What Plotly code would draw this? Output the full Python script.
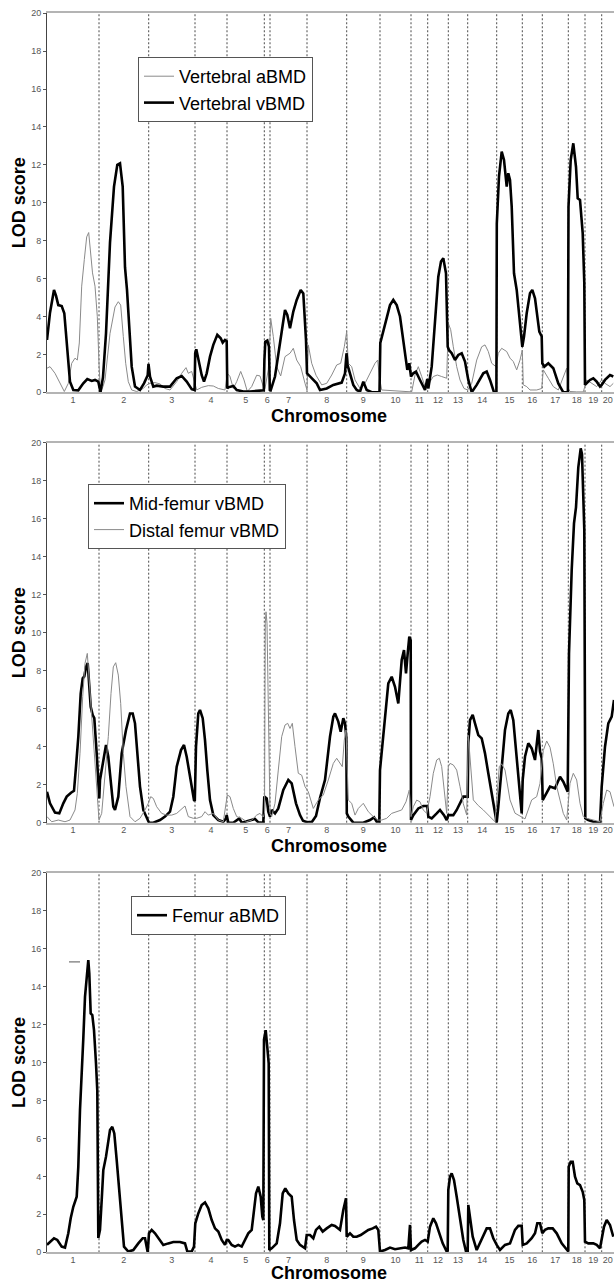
import plotly.graph_objects as go

# ---------------- data ----------------
CHROM_LABELS = [str(i) for i in range(1, 21)]
# chromosome lengths (cM) along the genome axis
CHROM_LENGTHS = [52, 49.7, 46.3, 32, 37.3, 5.7, 37, 39.7, 33.3, 31,
                 16.7, 20.6, 19.4, 29, 25.6, 20, 26, 16.7, 16.7, 12.3]

# Panel 1 - Vertebral vBMD (genome position cM, LOD)
vert_v_pos = [0, 3, 7, 9, 11.3, 14.7, 17.3, 19, 20.3, 23, 26.3, 31.3, 36.3, 40.3, 44.7, 48, 51.3, 52.3,
              53.5, 56, 59, 63, 67, 70.3, 73, 75.7, 78, 80, 82.3, 84.7, 88, 93, 97, 100.7, 101.5, 103, 106.3,
              109.7, 116.3, 123, 129.7, 134.7, 139.7, 144.7, 147.6,
              148.2, 149.3, 151.3, 154.7, 157, 159.7, 163, 166.3, 170.3, 173.7, 175.7, 178, 179.7, 180.3,
              181.3, 186.3, 189.7, 196.3, 203, 213, 216.8,
              217.4, 218.3, 220.3, 222, 222.8,
              223.7, 228, 232.3, 235.7, 238, 240.3, 243, 246.3, 249.7, 253.7, 256.3, 259, 260,
              264.7, 269.7, 273, 279.7, 286.3, 294.7, 298, 299.5, 300.5, 303,
              306.3, 309.7, 313, 316.3, 319.7, 324.7, 332.5,
              333.3, 335.7, 339.7, 343, 346.3, 349.7, 353, 356.3, 359, 360.3, 362.3, 364,
              366.3, 369, 373, 378, 380.3,
              381.3, 384.7, 388, 391.3, 394, 396.3, 399, 400.7,
              402, 404.7, 408, 411.3, 414.7, 418, 421.3,
              424.7, 429.7, 436.3, 439.7, 443, 447, 449.4,
              449.8, 452, 454.7, 457, 459.7, 461.3, 463, 464.7, 467, 469.7, 473, 475.3,
              477, 479.7, 483, 485.3, 488, 490.3, 492.3, 494.7, 495.3,
              497.3, 501.3, 506.3, 511.3, 516.3, 520.9,
              521.5, 523.7, 526.3, 529, 530.7, 533, 535.7, 537.3, 538,
              539.7, 543, 546.3, 549.7, 553, 554.7,
              558, 563, 566.3]
vert_v_lod = [2.76, 4.2, 5.4, 5.1, 4.6, 4.55, 4.17, 3.2, 2.2, 0.56, 0.12, 0.1, 0.47, 0.7, 0.6, 0.65, 0.56, 0.3,
              0, 0.8, 3.1, 7.9, 10.85, 12.0, 12.08, 10.85, 6.6, 5.4, 3.1, 1.35, 0.3, 0.12, 0.47, 0.9, 1.5, 0.83, 0.3,
              0.35, 0.3, 0.3, 0.74, 0.86, 0.56, 0.16, 0.12,
              2.06, 2.27, 1.7, 0.9, 0.56, 1.0, 1.88, 2.5, 3.03, 2.85, 2.62, 2.76, 2.7, 0.2,
              0.26, 0.33, 0.12, 0.04, 0.04, 0.09, 0.1,
              1.7, 2.67, 2.73, 2.4, 0.12,
              0.1, 0.83, 2.23, 3.55, 4.34, 4.08, 3.38, 4.26, 4.87, 5.4, 5.22, 2.76, 1.0,
              0.74, 0.47, 0.12, 0.2, 0.39, 0.51, 1.0, 2.06, 1.44, 1.0,
              0.39, 0.12, 0.03, 0.56, 0.12, 0, 0,
              2.6, 3.1, 4.0, 4.6, 4.87, 4.6, 4.0, 2.76, 1.62, 1.18, 1.53, 0.83,
              1.0, 1.09, 0.65, 0.12, 0.7,
              0.2, 1.35, 4.0, 6.1, 6.9, 7.07, 6.28, 2.4,
              2.23, 2.06, 1.7, 1.97, 2.06, 1.62, 0.65,
              0, 0.39, 1.0, 1.09, 0.65, 0, 0,
              8.9, 11.4, 12.7, 12.26, 10.85, 11.56, 11.2, 9.8, 6.28, 5.4, 3.64, 2.4,
              2.94, 4.17, 5.22, 5.4, 4.96, 3.82, 3.2, 2.94, 1.53,
              1.35, 1.53, 1.27, 0.47, 0, 0,
              9.8, 12.26, 13.14, 11.9, 10.24, 10.15, 8.4, 5.75, 0.39,
              0.47, 0.65, 0.74, 0.56, 0.3, 0.39,
              0.65, 0.91, 0.83]

# Panel 1 - Vertebral aBMD
vert_a_pos = [0, 3, 8, 13, 17.3, 21.3, 24.7, 28, 30.3, 32.3, 34.7, 37.3, 39.7, 41.7, 43.7, 45.5, 48, 50.3, 52,
              53.5, 56, 58, 63, 68, 71.3, 73.7, 76.3, 78.7, 81.3, 84.7, 89.7, 96.3, 99.7,
              103, 108, 113, 118, 123, 129.7, 134.7, 139, 141.3, 144.7, 147.3,
              149.7, 154.7, 161.3, 166.3, 171.3, 178,
              180.3, 183, 186.3, 189.7, 193.7, 197, 200.3, 204.7, 209.7, 213, 216.3,
              218, 221.3, 223,
              223.7, 226.3, 229.7, 233.7, 238, 243, 246.3, 249.7, 253.7, 258, 260,
              261.3, 264.7, 269, 274.7, 279.7, 284.7, 289.7, 293.7, 297.3, 299.7,
              301.3, 304.7, 308, 313, 318, 323, 328, 330.7, 332.3,
              334.7, 343, 353, 363,
              364.7, 368, 371.3, 374.7, 378, 380.3,
              383, 386.3, 390.3, 394.7, 399.7,
              401.3, 403.7, 406.3, 409.7, 413, 417, 420.7,
              424.7, 429.7, 434.7, 438, 441.3, 444.7, 449,
              451.3, 454.7, 459.7, 463, 466.3, 469.7, 473, 475.3,
              476.3, 479.7, 483, 489.7, 494.7,
              496.3, 501.3, 506.3, 511.3, 516.3, 519.7, 521.3,
              523, 529.7, 536.3,
              539.7, 544.7, 549.7, 554.7,
              558, 563, 566.3]
vert_a_lod = [1.27, 1.35, 1.0, 0.47, 0.04, 0.47, 1.53, 1.8, 1.7, 2.6, 5.6, 7.0, 8.2, 8.43, 7.3, 6.3, 5.6, 4.0, 1.5,
              0, 0.3, 0.65, 3.1, 4.5, 4.78, 4.6, 2.94, 1.53, 0.56, 0.12, 0.04, 0.2, 0.39,
              0.47, 0.51, 0.44, 0.2, 0.12, 0.56, 1.0, 1.3, 1.0, 1.1, 0.56,
              0.12, 0.26, 0.35, 0.33, 0.2, 0.12,
              1.0, 0.83, 0.2, 0.56, 1.1, 0.65, 0.04, 0.3, 0.9, 0.86, 0.3,
              0.2, 1.2, 2.94,
              3.9, 2.94, 1.35, 0.86, 1.88, 2.06, 2.32, 1.7, 1.35, 0.47, 0.12,
              2.5, 1.53, 0.9, 0.39, 0.47, 0.91, 1.44, 1.53, 2.4, 3.2,
              1.53, 1.35, 0.65, 0.2, 0.47, 1.0, 1.53, 1.7, 0.83,
              0.12, 0.09, 0.09, 0.02,
              0.02, 0.91, 1.35, 0.83, 0.3, 0.2,
              0.56, 0.83, 0.91, 0.83, 0.74,
              3.64, 3.3, 2.4, 1.35, 0.65, 0.2, 0.12,
              0.47, 1.7, 2.4, 2.5, 2.15, 1.53, 1.35,
              2.06, 2.32, 2.15, 1.8, 1.62, 1.18, 1.7, 2.23,
              0.39, 0.3, 0.12, 0.12, 0.2,
              1.18, 0.74, 0.3, 0.12, 0.83, 1.27, 0.2,
              0.04, 0.02, 0.02,
              0.65, 0.47, 0.3, 0.65,
              0.47, 0.3, 0.47]

# Panel 2 - Mid-femur vBMD
mid_pos = [0, 3, 8, 12.3, 16.3, 19.7, 24, 27, 29, 31.3, 33.7, 35.7, 37.3, 39, 40.7, 42, 43.7, 45.7, 47.3, 49.7,
           51.3, 52.3,
           53, 55.7, 59, 61.3, 64, 66.3, 68, 71.3, 74.7, 79, 83, 85.7, 88, 90.7, 93, 96.3, 99.7,
           102, 106.3, 113, 118, 123, 126.3, 129.7, 134, 137, 139.7, 142.3, 144.7, 147, 147.8,
           149, 151.3, 153, 155.7, 158, 160.3, 163, 166.3, 171.3, 176.3, 179, 179.7,
           181.3, 186.3, 192.3, 194.7, 198, 203, 208, 211.3, 216.3,
           217.3, 219.7, 221.3, 223,
           224.7, 228, 231.3, 236.3, 241.3, 244.7, 249, 253, 256, 260,
           265, 269, 273, 278, 283, 286.3, 288, 291.3, 293.7, 296.3, 298, 299.3, 299.8,
           301.3, 306.3, 316.3, 323, 327, 329.7, 332.3,
           333, 336.3, 341.3, 344.7, 348, 351.3, 354.7, 357, 359, 360.7, 362.3, 363.7, 364,
           366.3, 371.3, 376.3, 380.3,
           381.3, 384.7, 389.7, 393, 397, 399.7,
           401.3, 406.3, 409.7, 413, 416.3, 420.7,
           421.3, 423, 425.7, 428, 431.3, 434.7, 438, 441.3, 444.7, 447.3, 449.7,
           451.3, 454.7, 458, 461.3, 463.7, 466.3, 469.7, 472.3, 474.7,
           475.7, 478, 481.3, 484.7, 488, 489.7, 491.3, 493, 494.7, 495.7,
           499.7, 503, 508, 513, 516.3, 520.7,
           522, 524.7, 527, 529, 531.3, 533.7, 535, 536.3, 537.3, 538.3,
           541.3, 546.3, 553,
           554.7, 558, 561.3, 564.7, 567]
mid_lod = [1.63, 1.02, 0.53, 0.49, 1.02, 1.37, 1.58, 1.68, 2.95, 4.5, 6.8, 7.6, 7.7, 8.2, 8.4, 7.15, 6.1, 5.67, 5.5, 3.65,
           1.9, 1.28,
           2.25, 3.12, 4.09, 3.47, 1.9, 0.84, 0.67, 1.37, 3.65, 4.88, 5.75, 5.75, 5.23, 3.65, 1.9, 0.67, 0.32,
           0, 0, 0.14, 0.32, 0.58, 1.37, 2.95, 3.82, 4.09, 3.47, 2.6, 1.9, 1.19, 1.15,
           4.0, 5.75, 5.93, 5.5, 4.35, 2.77, 1.19, 0.4, 0.14, 0.05, 0.23, 0.4,
           0, 0, 0.23, 0, 0.05, 0.14, 0.2, 0.02, 0,
           1.37, 1.28, 0.58, 0.32,
           0.67, 0.49, 0.75, 1.72, 2.25, 2.07, 1.02, 0.4, 0.1, 0.02,
           0.05, 0.35, 1.3, 2.25, 4.53, 5.58, 5.75, 5.32, 4.79, 5.5, 5.23, 4.5, 0.49,
           0.32, 0, 0, 0.14, 0.28, 0.05, 0.05,
           2.77, 4.53, 7.33, 7.68, 7.15, 6.28, 8.56, 9.09, 7.86, 8.91, 9.79, 9.6, 0.14,
           0.4, 0.75, 0.88, 0.88,
           0.32, 0.23, 0.49, 0.67, 0.4, 0.14,
           0.4, 0.4, 0.67, 1.02, 1.37, 1.37,
           4.18, 5.4, 5.67, 5.23, 4.61, 4.44, 3.65, 2.6, 1.54, 0.58, 0,
           0.84, 3.12, 4.88, 5.75, 5.93, 5.4, 3.47, 2.25, 0.49,
           2.25, 3.47, 4.18, 3.91, 3.3, 4.35, 4.88, 3.74, 3.39, 1.19,
           1.54, 1.9, 1.81, 2.42, 2.16, 1.63,
           8.91, 13.3, 15.75, 16.6, 18.7, 19.7, 19.4, 17.3, 15.4, 0.23,
           0.14, 0.05, 0,
           1.9, 4.0, 5.23, 5.58, 6.46]

# Panel 2 - Distal femur vBMD
distal_pos = [0, 4.7, 11.3, 18, 23, 28, 30.3, 33, 35.7, 38, 40.3, 42.3, 44.7, 47, 49.7, 52,
              54.7, 58, 61.3, 64, 66.3, 68.7, 71.3, 73.7, 76.3, 79, 83, 88, 93, 98, 101.3,
              103.7, 106.3, 109.7, 114.7, 119.7, 124.7, 129.7, 134.7, 138, 141.3, 146.3,
              149.7, 154.7, 158, 161.3, 166.3, 171.3, 176.3,
              180.3, 183, 186.3, 189.7, 194.7, 199.7, 204.7, 209.7, 213, 216.3,
              217.5, 218.3, 219, 220, 221, 222, 223,
              224.7, 228, 231.3, 234.7, 238, 240.7, 243, 245.3, 248, 251.3, 254.7, 258,
              261.3, 264.7, 266.3, 271.3, 276.3, 281.3, 286.3, 289.7, 293, 295.3, 297.3, 299,
              301.3, 304.7, 308, 311.3, 316.3, 321.3, 326.3, 331.3,
              334.7, 339.7, 344.7, 349.7, 354.7, 359, 362.3, 364,
              366.3, 369.7, 373, 376.3, 379.7,
              383, 386.3, 389.7, 392.3, 394.7, 397, 399.7,
              401.3, 403, 406.3, 409.7, 413, 416.3, 419.7,
              421.3, 426.3, 431.3, 436.3, 443, 448,
              452.3, 454.7, 458, 463, 468, 474.7,
              478, 484.7, 489.7, 493,
              496.3, 499.7, 503, 506.3, 509.7, 513, 516.3, 519.7,
              523, 526.3, 529.7, 533, 536.3,
              539.7, 546.3, 553,
              556.3, 559.7, 563, 567]
distal_lod = [0.32, 0.05, 0.14, 0.05, 0.14, 0.67, 1.54, 3.65, 6.63, 8.39, 8.91, 7.5, 5.75, 4.0, 1.9, 0.14,
              0.49, 2.6, 4.53, 6.8, 8.2, 8.42, 7.77, 6.28, 3.65, 1.9, 0.32, 0.05, 0.23, 0.67, 1.02,
              1.37, 1.28, 0.84, 0.49, 0.4, 0.4, 0.49, 0.75, 0.88, 0.32, 0.23,
              0.23, 0.32, 0.58, 0.4, 0.49, 0.14, 0.05,
              1.46, 1.37, 0.75, 0.32, 0.23, 0.05, 0.14, 0.4, 0.49, 0.3,
              0.5, 10.5, 11.1, 10.5, 7.0, 2.0, 0.49,
              0.32, 1.02, 2.77, 4.53, 5.14, 5.23, 4.96, 5.23, 4.0, 2.6, 2.5, 1.9,
              1.63, 1.02, 0.75, 1.19, 1.46, 2.25, 3.12, 3.39, 3.12, 2.95, 4.35, 4.88,
              1.19, 1.02, 0.4, 0.75, 1.02, 0.58, 0.32, 0.14,
              0.14, 0.23, 0.49, 0.58, 0.67, 1.1, 1.72, 0.32,
              0.84, 1.19, 1.1, 0.67, 0.49,
              1.37, 2.6, 3.3, 3.39, 2.95, 1.9, 0.49,
              2.95, 3.12, 3.04, 2.77, 1.9, 1.0, 0.4,
              4.6, 1.2, 0.9, 0.67, 0.3, 0.05,
              2.95, 3.1, 2.77, 1.2, 0.5, 0.3,
              0.2, 1.2, 1.37, 2.07,
              3.8, 4.3, 3.97, 3.1, 1.9, 1.19, 0.49, 0.14,
              2.07, 2.6, 2.25, 1.02, 0.32,
              0.23, 0.14, 0.05,
              1.02, 1.72, 1.63, 0.84]

# Panel 3 - Femur aBMD
fem_pos = [0, 3, 7, 10.3, 14.7, 18, 21.3, 23.7, 26.3, 29.7, 31.3, 33, 34.7, 36.3, 38, 39.7, 41.3, 42.3, 43.7,
           45.3, 47, 49, 50.3, 51.3,
           53, 54.7, 56.3, 59, 61.3, 63, 65.3, 67.3, 69.7, 72.3, 74.7, 77, 81.3, 86.3, 91.3, 95.7, 98, 99.7, 100.7,
           102, 104.7, 108, 111.3, 116.3, 121.3, 126.3, 133, 138, 140.3, 144.7, 147,
           148.3, 151.3, 154.7, 158, 161.3, 164.7, 168, 171.3, 174.7, 178, 179.7,
           181.3, 184.7, 188, 191.3, 194.7, 198, 201.3, 204.7, 207, 209, 211.3, 213.7, 215.3, 216.3,
           217, 218.7, 220.3, 221.7, 222.3,
           224.7, 229.7, 233, 235.7, 238.3, 241.3, 244.7, 247, 249.7, 253, 258, 259.7,
           263, 266.3, 269, 272.3, 275.7, 279.7, 284.7, 288, 293, 296.3, 299, 299.7,
           303, 306.3, 309.7, 313.7, 318, 321.3, 325.7, 329, 331.3,
           333, 338, 343, 348, 353, 358, 361.3, 363, 364,
           368, 371.3, 374.7, 378, 380.7,
           383, 386.3, 389, 392.3, 395.7, 399.7, 400.7,
           401.3, 403, 404.7, 407, 409.7, 413, 416.3, 419, 420.7,
           421.3, 423, 425.7, 429.7, 434.7, 439.7, 443, 446.3, 449.7,
           453, 458, 463, 468, 471.3, 474.7,
           475.7, 479.7, 484.7, 488, 490.3, 493, 495.3,
           498, 501.3, 505.7, 509.7, 514.7, 519.7, 521.3,
           521.7, 523.7, 525.7, 528, 530.3, 533, 535.7, 537.3, 538,
           541.3, 546.3, 549.7, 553, 554.7,
           557, 559.7, 563, 566.3]
fem_lod = [0.39, 0.56, 0.74, 0.65, 0.3, 0.25, 1.0, 1.79, 2.4, 2.93, 4.5, 7.5, 9.95, 11.26, 13.46, 14.68, 15.39, 14.68,
           12.58, 12.5, 11.7, 9.95, 8.5, 0.75,
           1.18, 2.75, 4.33, 5.04, 5.74, 6.44, 6.61, 6.26, 4.86, 3.28, 1.53, 0.3, 0.04, 0.12, 0.47, 0.74, 0.74, 0.12, 0,
           1.0, 1.18, 1.0, 0.74, 0.39, 0.47, 0.54, 0.54, 0.47, 0.04, 0.04, 0.3,
           1.53, 2.05, 2.49, 2.63, 2.32, 1.7, 1.26, 1.09, 0.65, 0.39, 0.65,
           0.65, 0.39, 0.3, 0.39, 0.3, 0.65, 1.0, 1.18, 2.23, 3.1, 3.46, 2.93, 1.88, 1.7,
           11.2, 11.7, 10.8, 9.95, 0.12,
           0.21, 0.47, 1.53, 3.1, 3.37, 3.1, 2.93, 1.7, 0.65, 0.39, 0.21, 0.91,
           0.91, 0.74, 1.18, 1.35, 1.09, 1.26, 1.44, 1.39, 1.18, 2.23, 2.84, 0.82,
           1.0, 0.82, 0.82, 0.91, 1.09, 1.18, 1.26, 1.35, 1.18,
           0.04, 0.12, 0.25, 0.16, 0.21, 0.25, 0.21, 1.44, 0.12,
           0.21, 0.39, 0.56, 0.65, 0.56,
           1.35, 1.79, 1.53, 1.0, 0.47, 0.04, 0.1,
           3.28, 3.98, 4.16, 3.81, 2.93, 1.7, 0.65, 0.04, 0.04,
           2.49, 1.88, 0.82, 0.12, 0.65, 1.26, 1.26, 0.74, 0.39,
           0.12, 0.39, 0.47, 1.18, 1.39, 1.39,
           0.39, 0.47, 0.74, 1.0, 1.53, 1.53, 1.0,
           1.18, 1.26, 1.26, 1.0, 0.47, 0.12, 0.04,
           4.51, 4.77, 4.77, 3.98, 3.63, 3.54, 3.19, 2.75, 0.56,
           0.47, 0.47, 0.39, 0.21, 0.65,
           1.35, 1.7, 1.44, 0.82]

# small interval marker near the chromosome 1 femur aBMD peak
marker_pos = [22, 33]
marker_lod = [15.3, 15.3]

Y_TICKS = list(range(0, 21, 2))
X_TITLE = "Chromosome"
Y_TITLE = "LOD score"

# ---------------- derived chromosome geometry ----------------
bounds = [0]
for L in CHROM_LENGTHS:
    bounds.append(bounds[-1] + L)
mids = [(bounds[i] + bounds[i + 1]) / 2 for i in range(len(CHROM_LENGTHS))]
genome_end = bounds[-1]

# ---------------- figure ----------------
FONT = "Liberation Sans, Arial, sans-serif"
THICK = dict(color="#000000", width=2.6)
THIN = dict(color="#8a8a8a", width=1)

fig = go.Figure()

fig.add_trace(go.Scatter(x=vert_a_pos, y=vert_a_lod, mode="lines", line=THIN,
                         name="Vertebral aBMD", xaxis="x", yaxis="y", legend="legend"))
fig.add_trace(go.Scatter(x=vert_v_pos, y=vert_v_lod, mode="lines", line=THICK,
                         name="Vertebral vBMD", xaxis="x", yaxis="y", legend="legend"))
fig.add_trace(go.Scatter(x=mid_pos, y=mid_lod, mode="lines", line=THICK,
                         name="Mid-femur vBMD", xaxis="x2", yaxis="y2", legend="legend2"))
fig.add_trace(go.Scatter(x=distal_pos, y=distal_lod, mode="lines", line=THIN,
                         name="Distal femur vBMD", xaxis="x2", yaxis="y2", legend="legend2"))
fig.add_trace(go.Scatter(x=fem_pos, y=fem_lod, mode="lines", line=THICK,
                         name="Femur aBMD", xaxis="x3", yaxis="y3", legend="legend3"))
fig.add_trace(go.Scatter(x=marker_pos, y=marker_lod, mode="lines",
                         line=dict(color="#555555", width=1), showlegend=False,
                         hoverinfo="skip", xaxis="x3", yaxis="y3"))

X_DOMAIN = [47 / 614, 1.0]
Y_DOMAINS = [[0.6945, 0.98964], [0.35927, 0.65522], [0.02469, 0.32033]]
# (paper y, anchor) for the three "Chromosome" titles
X_TITLE_POS = [(1 - 416 / 1284, "middle"), (1 - 846.4 / 1284, "middle"), (0.0, "bottom")]

tick_font = dict(family=FONT, size=9, color="#555555")
title_font = dict(family=FONT, size=18, color="#000000", weight="bold")

layout = dict(
    width=614, height=1284,
    margin=dict(l=0, r=0, t=0, b=0),
    paper_bgcolor="white", plot_bgcolor="white",
    showlegend=True,
)

annotations = []
for i in range(3):
    sx = "" if i == 0 else str(i + 1)
    layout["xaxis" + sx] = dict(
        domain=X_DOMAIN, range=[0, genome_end], anchor="y" + sx,
        tickmode="array", tickvals=mids, ticktext=CHROM_LABELS,
        ticks="", ticklabelstandoff=-2, tickfont=tick_font,
        showgrid=False, zeroline=False,
        showline=True, linecolor="#b4b4b4", linewidth=2, mirror=True,
        automargin=False, fixedrange=True,
    )
    layout["yaxis" + sx] = dict(
        domain=Y_DOMAINS[i], range=[0, 20], anchor="x" + sx,
        tickmode="array", tickvals=Y_TICKS,
        ticks="outside", ticklen=3, tickcolor="#555555", tickwidth=1,
        tickfont=tick_font, showgrid=False, zeroline=False,
        showline=True, linecolor="#444444", linewidth=1,
        title=dict(text=Y_TITLE, font=title_font, standoff=0),
        automargin=False, fixedrange=True,
    )
    ty, anchor = X_TITLE_POS[i]
    annotations.append(dict(text=X_TITLE, xref="paper", yref="paper",
                            x=329 / 614, y=ty, xanchor="center", yanchor=anchor,
                            showarrow=False, font=title_font, borderpad=0))
layout["annotations"] = annotations

legend_style = dict(font=dict(family=FONT, size=18, color="#000000"),
                    bgcolor="white", bordercolor="#555555", borderwidth=1,
                    xanchor="left", yanchor="top", traceorder="normal")
layout["legend"] = dict(x=138 / 614, y=1 - 57 / 1284, **legend_style)
layout["legend2"] = dict(x=88 / 614, y=1 - 484 / 1284, **legend_style)
layout["legend3"] = dict(x=131 / 614, y=1 - 896 / 1284, **legend_style)

shapes = []
for i in range(3):
    sx = "" if i == 0 else str(i + 1)
    for b in bounds[1:-1]:
        shapes.append(dict(type="line", xref="x" + sx, yref="y" + sx + " domain",
                           x0=b, x1=b, y0=0, y1=1, layer="below",
                           line=dict(color="#4a4a4a", width=1, dash="2px,2px")))
layout["shapes"] = shapes

fig.update_layout(**layout)
fig.write_html("out.html", config={"displayModeBar": False},
               post_script="document.body.style.margin='0';document.body.style.overflow='hidden';")
